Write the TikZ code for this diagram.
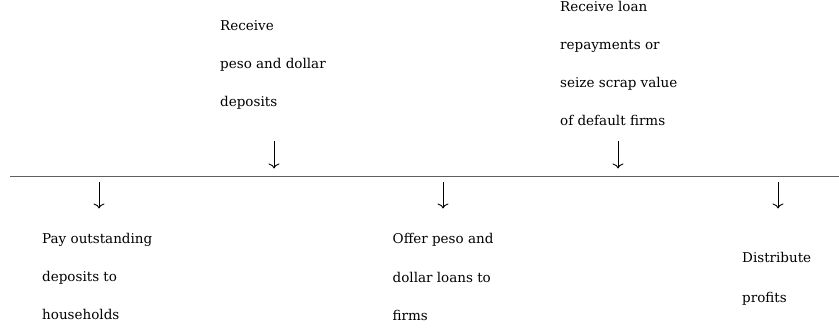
\documentclass[tikz,border=0pt]{standalone}
\usepackage{fontspec}
\setmainfont{DejaVu Serif}
\usetikzlibrary{arrows.meta}
\begin{document}
\begin{tikzpicture}[x=1pt,y=-1pt,
  lbl/.style={anchor=north west,inner sep=0pt,align=left,
    font=\fontsize{13.5}{38.3}\selectfont},
  lbltwo/.style={lbl,font=\fontsize{13.5}{40}\selectfont},
  flow/.style={line width=0.9pt,-{To[length=5pt,width=11pt]}},
  timeline/.style={line width=1.3pt,draw={rgb,255:red,95;green,95;blue,95}}]
\useasboundingbox (0,0) rectangle (839,331);
% timeline
\coordinate (L0) at (10,176.5);
\coordinate (L1) at (839,176.5);
\draw[timeline] (L0) -- (L1);
% texts
\node[lbl] (recdep) at (220,20.2) {Receive\\peso and dollar\\deposits};
\node[lbl] (recloan) at (560,0.6) {Receive loan\\repayments or\\seize scrap value\\of default firms};
\node[lbl] (pay) at (42,232.7) {Pay outstanding\\deposits to\\households};
\node[lbl] (offer) at (392.5,233.4) {Offer peso and\\dollar loans to\\firms};
\node[lbltwo] (dist) at (742,251.9) {Distribute\\profits};
% arrows
\coordinate (a1s) at (274,141); \coordinate (a1e) at (274,168.5);
\coordinate (a2s) at (618,141); \coordinate (a2e) at (618,168.5);
\coordinate (b1s) at (99,182); \coordinate (b1e) at (99,208.5);
\coordinate (b2s) at (443,182); \coordinate (b2e) at (443,208.5);
\coordinate (b3s) at (778,182); \coordinate (b3e) at (778,208.5);
\draw[flow] (a1s) -- (a1e);
\draw[flow] (a2s) -- (a2e);
\draw[flow] (b1s) -- (b1e);
\draw[flow] (b2s) -- (b2e);
\draw[flow] (b3s) -- (b3e);
\end{tikzpicture}
\end{document}
